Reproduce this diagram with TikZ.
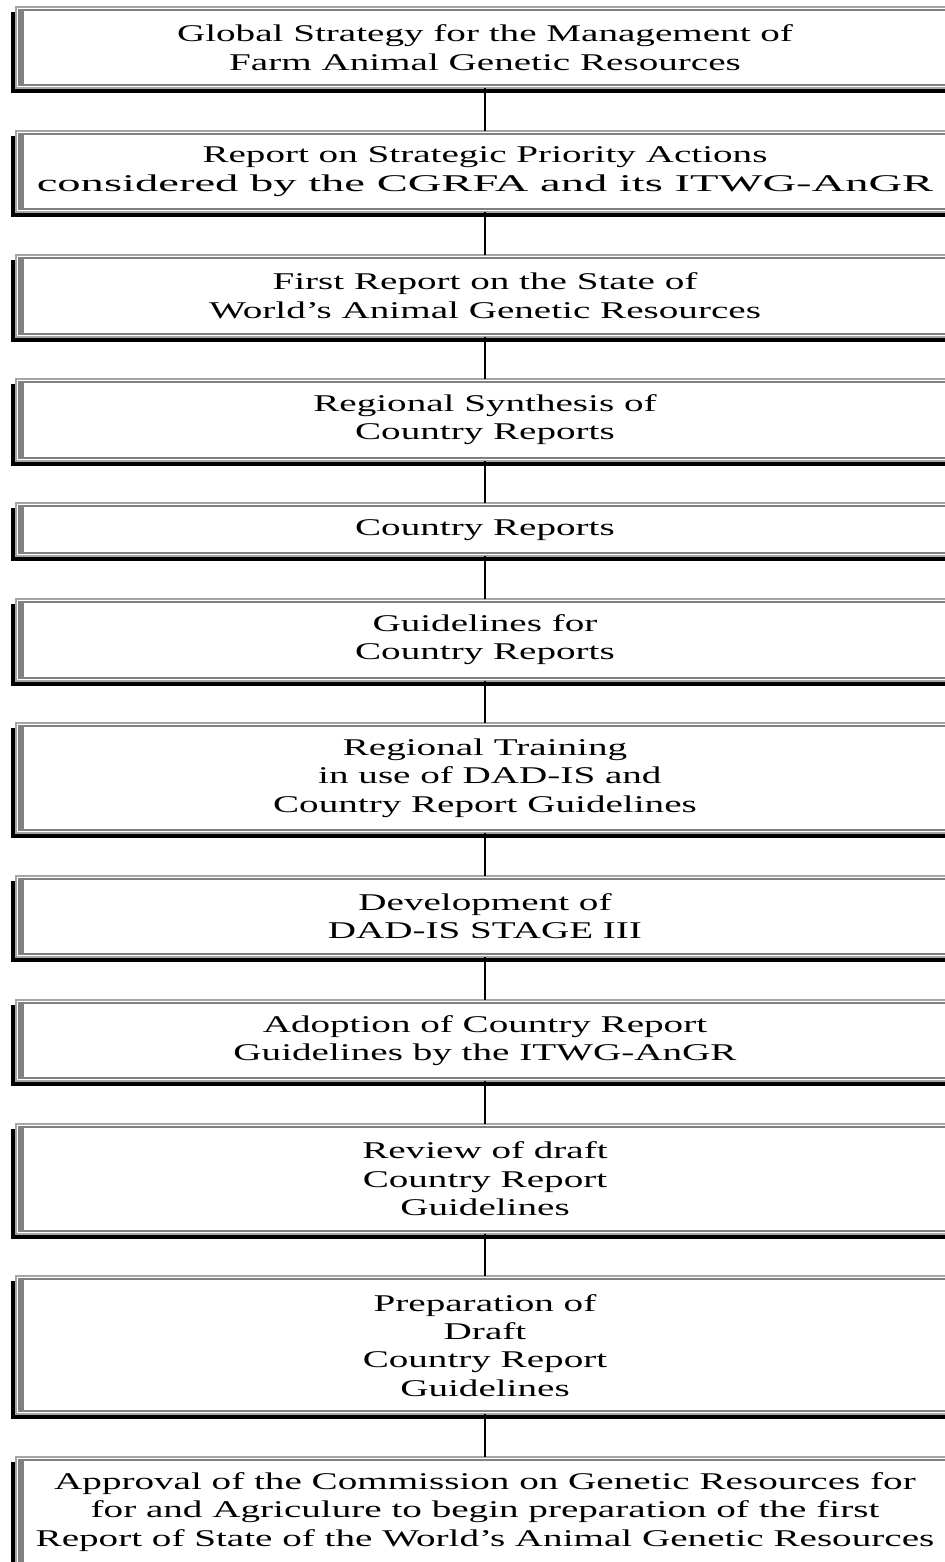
\documentclass[tikz,border=0pt]{standalone}
\usepackage{graphicx}
\usepackage{fontspec}
\setmainfont{Liberation Serif}[FakeStretch=1.63]
\usetikzlibrary{positioning}
\definecolor{framelight}{gray}{0.65}
\definecolor{framedark}{gray}{0.5}

\begin{document}
\begin{tikzpicture}
[node distance=21.4pt, outer sep=0pt,
  stagebox/.style={draw=framelight, line width=1pt, fill=white,
    minimum width=469pt, minimum height={26.5pt+14.15pt*(#1-1)},
    inner sep=0pt, align=center,
    font=\fontsize{12pt}{14.15pt}\selectfont,
    preaction={fill=black, transform canvas={shift={(-2.5pt,-2.5pt)}}},
    path picture={
      \fill[framedark] ([shift={(1pt,-1pt)}]path picture bounding box.north west)
        rectangle ([shift={(-1pt,1pt)}]path picture bounding box.south east);
      \fill[white] ([shift={(4pt,-2pt)}]path picture bounding box.north west)
        rectangle ([shift={(-2pt,2pt)}]path picture bounding box.south east);}},
  link/.style={line width=0.75pt}]

  \useasboundingbox (0,0) rectangle (472.5pt,-781pt);
  \clip (0,0) rectangle (472.5pt,-781pt);

  \node[stagebox=2, anchor=north west] (global) at (8pt,-3.5pt)
    {Global Strategy for the Management of\\Farm Animal Genetic Resources};
  \node[stagebox=2, below=of global] (priority)
    {Report on Strategic Priority Actions\\\scalebox{1.19}[1]{considered by the CGRFA and its ITWG-AnGR}};
  \node[stagebox=2, below=of priority] (sowangr)
    {First Report on the State of\\World's Animal Genetic Resources};
  \node[stagebox=2, below=of sowangr] (synthesis)
    {Regional Synthesis of\\Country Reports};
  \node[stagebox=1, below=of synthesis] (reports) {Country Reports};
  \node[stagebox=2, below=of reports] (guidelines)
    {Guidelines for\\Country Reports};
  \node[stagebox=3, below=of guidelines] (training)
    {Regional Training\\\ in use of DAD-IS and\\Country Report Guidelines};
  \node[stagebox=2, below=of training] (dadis)
    {Development of\\DAD-IS STAGE III};
  \node[stagebox=2, below=of dadis] (adoption)
    {Adoption of Country Report\\Guidelines by the ITWG-AnGR};
  \node[stagebox=3, below=of adoption] (review)
    {Review of draft\\Country Report\\Guidelines};
  \node[stagebox=4, below=of review] (draft)
    {Preparation of\\Draft\\Country Report\\Guidelines};
  \node[stagebox=3, below=of draft] (approval)
    {Approval of the Commission on Genetic Resources for\\for and Agriculure to begin preparation of the first\\Report of State of the World's Animal Genetic Resources};

  \foreach \from/\to in {global/priority, priority/sowangr, sowangr/synthesis,
    synthesis/reports, reports/guidelines, guidelines/training, training/dadis,
    dadis/adoption, adoption/review, review/draft, draft/approval}
    \draw[link] (\from) -- (\to);

\end{tikzpicture}
\end{document}
